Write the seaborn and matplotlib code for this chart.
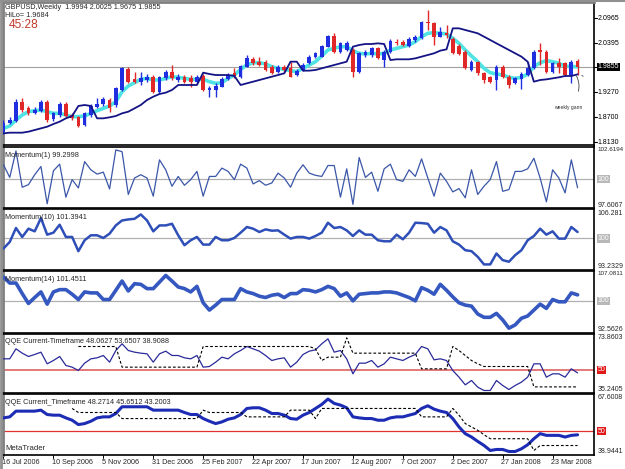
import numpy as np
import pandas as pd
import matplotlib
matplotlib.use("Agg")
import matplotlib.pyplot as plt
import matplotlib.transforms as mtrans
import seaborn as sns

# ---------------- data ----------------
open_ = [1.8373, 1.8579, 1.8625, 1.9059, 1.8906, 1.8807, 1.8853, 1.9059, 1.8655, 1.8754,
         1.9006, 1.8754, 1.8701, 1.8525, 1.8754, 1.8945, 1.9006, 1.9097, 1.8983, 1.9326,
         1.9806, 1.9569, 1.9516, 1.9554, 1.9630, 1.9287, 1.9592, 1.9745, 1.9554, 1.9630,
         1.9592, 1.9516, 1.9646, 1.9326, 1.9326, 1.9402, 1.9569, 1.9722, 1.9615, 1.9859,
         2.0027, 1.9973, 1.9973, 1.9859, 1.9745, 1.9859, 1.9821, 1.9668, 1.9783, 1.9950,
         2.0088, 2.0088, 2.0316, 2.0560, 2.0202, 2.0240, 2.0240, 1.9745, 2.0126, 2.0126,
         2.0278, 2.0011, 2.0202, 2.0430, 2.0430, 2.0331, 2.0469, 2.0507, 2.0888, 2.0865,
         2.0545, 2.0636, 2.0484, 2.0331, 2.0202, 1.9783, 1.9973, 1.9707, 1.9615, 1.9554,
         1.9859, 1.9630, 1.9478, 1.9577, 1.9668, 1.9821, 2.0240, 2.0202, 1.9745, 1.9935,
         1.9935, 1.9668, 1.9994]
high = [1.8640, 1.8701, 1.9120, 1.9135, 1.8960, 1.8929, 1.9097, 1.9097, 1.8830, 1.9059,
        1.9059, 1.8807, 1.8731, 1.8830, 1.9006, 1.9135, 1.9173, 1.9135, 1.9402, 1.9859,
        1.9859, 1.9745, 1.9745, 1.9691, 1.9668, 1.9646, 1.9783, 1.9897, 1.9691, 1.9668,
        1.9668, 1.9668, 1.9691, 1.9417, 1.9478, 1.9615, 1.9707, 1.9821, 1.9897, 2.0126,
        2.0072, 2.0088, 2.0011, 1.9897, 1.9897, 1.9897, 1.9973, 1.9798, 1.9935, 2.0126,
        2.0202, 2.0354, 2.0583, 2.0636, 2.0430, 2.0453, 2.0278, 2.0202, 2.0240, 2.0316,
        2.0316, 2.0240, 2.0484, 2.0484, 2.0469, 2.0530, 2.0583, 2.0911, 2.1154, 2.0888,
        2.0758, 2.0811, 2.0530, 2.0377, 2.0240, 2.0011, 1.9996, 1.9745, 1.9646, 1.9897,
        1.9897, 1.9668, 1.9630, 1.9745, 1.9973, 2.0240, 2.0392, 2.0240, 1.9973, 2.0049,
        1.9973, 2.0011, 2.0025]
low = [1.8320, 1.8548, 1.8602, 1.8830, 1.8754, 1.8777, 1.8823, 1.8602, 1.8625, 1.8716,
       1.8701, 1.8640, 1.8472, 1.8503, 1.8716, 1.8906, 1.8960, 1.8830, 1.8945, 1.9310,
       1.9478, 1.9478, 1.9440, 1.9516, 1.9265, 1.9265, 1.9554, 1.9554, 1.9516, 1.9478,
       1.9402, 1.9478, 1.9310, 1.9158, 1.9173, 1.9387, 1.9554, 1.9600, 1.9592, 1.9844,
       1.9897, 1.9874, 1.9768, 1.9691, 1.9722, 1.9745, 1.9615, 1.9646, 1.9752, 1.9920,
       2.0049, 2.0072, 2.0301, 2.0179, 2.0179, 2.0225, 1.9630, 1.9722, 2.0088, 2.0088,
       2.0027, 1.9859, 2.0179, 2.0354, 2.0331, 2.0316, 2.0430, 2.0484, 2.0697, 2.0354,
       2.0530, 2.0507, 2.0149, 2.0126, 1.9798, 1.9768, 1.9668, 1.9478, 1.9493, 1.9326,
       1.9592, 1.9364, 1.9463, 1.9341, 1.9646, 1.9798, 1.9897, 1.9722, 1.9722, 1.9707,
       1.9646, 1.9478, 1.9675]
close = [1.8579, 1.8640, 1.9059, 1.8868, 1.8792, 1.8868, 1.9059, 1.8640, 1.8792, 1.9006,
         1.8731, 1.8678, 1.8503, 1.8792, 1.8960, 1.9006, 1.9120, 1.8906, 1.9364, 1.9821,
         1.9516, 1.9516, 1.9592, 1.9630, 1.9287, 1.9615, 1.9745, 1.9592, 1.9630, 1.9516,
         1.9516, 1.9630, 1.9326, 1.9379, 1.9417, 1.9569, 1.9668, 1.9646, 1.9882, 2.0049,
         1.9935, 1.9897, 1.9783, 1.9707, 1.9859, 1.9783, 1.9630, 1.9768, 1.9897, 2.0088,
         2.0164, 2.0331, 2.0560, 2.0202, 2.0408, 2.0408, 1.9745, 2.0164, 2.0202, 2.0278,
         2.0049, 2.0202, 2.0453, 2.0392, 2.0354, 2.0484, 2.0545, 2.0888, 2.0850, 2.0545,
         2.0659, 2.0583, 2.0164, 2.0141, 1.9821, 1.9973, 1.9707, 1.9554, 1.9516, 1.9859,
         1.9630, 1.9440, 1.9592, 1.9691, 1.9821, 2.0202, 2.0202, 1.9745, 1.9935, 1.9859,
         1.9668, 1.9973, 1.9855]
ma_cyan = [1.8449, 1.8503, 1.8640, 1.8754, 1.8830, 1.8853, 1.8868, 1.8830, 1.8792, 1.8792,
           1.8754, 1.8716, 1.8716, 1.8731, 1.8792, 1.8853, 1.8906, 1.8960, 1.9059, 1.9287,
           1.9417, 1.9493, 1.9569, 1.9592, 1.9554, 1.9554, 1.9592, 1.9630, 1.9615, 1.9592,
           1.9569, 1.9569, 1.9569, 1.9516, 1.9478, 1.9493, 1.9592, 1.9668, 1.9798, 1.9897,
           1.9950, 1.9950, 1.9920, 1.9859, 1.9821, 1.9798, 1.9768, 1.9745, 1.9821, 1.9897,
           1.9973, 2.0103, 2.0240, 2.0278, 2.0316, 2.0316, 2.0225, 2.0164, 2.0149, 2.0164,
           2.0149, 2.0164, 2.0240, 2.0278, 2.0316, 2.0354, 2.0430, 2.0545, 2.0621, 2.0636,
           2.0621, 2.0606, 2.0507, 2.0392, 2.0240, 2.0103, 1.9973, 1.9821, 1.9722, 1.9691,
           1.9668, 1.9615, 1.9592, 1.9615, 1.9691, 1.9859, 1.9950, 1.9996, 1.9973, 1.9935,
           1.9874, 1.9859, 1.9859]
hilo = [1.8335, 1.8350, 1.8350, 1.8350, 1.8373, 1.8411, 1.8449, 1.8487, 1.8548, 1.8602,
        1.8678, 1.8731, 1.8960, 1.8983, 1.8960, 1.8678, 1.8678, 1.8701, 1.8731, 1.8792,
        1.8830, 1.8906, 1.8983, 1.9097, 1.9173, 1.9234, 1.9265, 1.9326, 1.9440, 1.9440,
        1.9440, 1.9440, 1.9722, 1.9691, 1.9668, 1.9668, 1.9668, 1.9646, 1.9440, 1.9478,
        1.9516, 1.9554, 1.9592, 1.9630, 1.9668, 1.9707, 1.9973, 1.9973, 1.9768, 1.9768,
        1.9783, 1.9821, 1.9859, 1.9897, 1.9935, 1.9973, 2.0316, 2.0354, 2.0377, 2.0377,
        2.0392, 2.0377, 2.0011, 2.0027, 2.0027, 2.0027, 2.0049, 2.0088, 2.0126, 2.0164,
        2.0225, 2.0255, 2.0735, 2.0735, 2.0697, 2.0659, 2.0621, 2.0545, 2.0469, 2.0392,
        2.0316, 2.0240, 2.0164, 2.0088, 1.9973, 1.9516, 1.9554, 1.9569, 1.9592, 1.9615,
        1.9646, 1.9646, 1.9684]
mom1 = [101.17, 100.14, 102.30, 99.34, 99.55, 100.36, 101.03, 97.99, 100.68, 101.22,
        98.53, 99.96, 99.28, 101.43, 100.76, 100.41, 100.57, 99.20, 102.38, 102.24,
        98.75, 100.09, 100.36, 100.09, 98.61, 101.57, 100.76, 99.42, 100.22, 99.50,
        99.96, 100.63, 98.61, 100.22, 100.22, 100.90, 100.63, 99.96, 101.22, 100.90,
        99.61, 99.88, 99.50, 99.69, 100.49, 100.09, 99.34, 100.49, 101.17, 100.49,
        100.31, 100.22, 101.11, 101.11, 98.53, 100.84, 97.94, 101.76, 100.14, 100.57,
        99.01, 100.84, 101.22, 99.96, 99.82, 100.76, 100.22, 101.65, 100.09, 98.61,
        100.49, 99.82, 98.96, 99.23, 98.48, 100.76, 98.75, 99.42, 99.96, 101.43,
        99.01, 99.15, 100.63, 100.63, 100.84, 101.70, 100.09, 98.15, 100.76, 100.09,
        98.88, 101.57, 99.30]
mom10 = [97.79, 99.23, 102.25, 100.31, 102.11, 101.53, 104.41, 100.81, 101.24, 102.97,
         100.31, 100.31, 97.22, 99.59, 100.67, 100.67, 100.09, 101.03, 102.82, 103.90,
         104.12, 104.26, 105.20, 103.90, 101.53, 102.82, 102.82, 103.18, 100.67, 98.51,
         99.59, 100.31, 98.65, 98.65, 100.31, 99.59, 99.59, 100.09, 101.24, 102.47,
         102.11, 101.39, 101.96, 101.67, 101.74, 100.81, 99.95, 100.31, 100.31, 99.95,
         100.52, 101.24, 103.40, 102.25, 102.47, 101.74, 100.52, 101.74, 100.81, 100.81,
         99.59, 99.37, 99.37, 100.81, 99.80, 101.24, 103.40, 103.33, 103.18, 101.24,
         102.47, 101.74, 99.37, 98.65, 97.43, 97.22, 95.99, 94.34, 94.34, 96.71,
         95.27, 94.92, 96.35, 97.43, 99.59, 100.52, 102.11, 100.81, 101.53, 99.95,
         99.95, 102.47, 101.39]
mom14 = [105.64, 104.24, 104.24, 101.75, 99.42, 100.82, 102.14, 99.26, 102.14, 102.68,
         102.68, 101.60, 100.35, 102.14, 101.91, 101.91, 100.35, 100.35, 102.53, 104.71,
         102.37, 104.08, 103.93, 102.92, 102.92, 104.47, 106.03, 104.71, 103.31, 102.92,
         102.14, 103.46, 99.57, 97.86, 99.03, 100.35, 100.35, 100.35, 102.92, 102.14,
         101.75, 101.13, 100.82, 101.36, 101.60, 100.82, 101.75, 101.75, 102.68, 102.53,
         102.14, 102.68, 103.46, 102.92, 101.13, 101.91, 100.04, 101.60, 101.75, 101.91,
         101.91, 102.14, 102.14, 101.91, 101.36, 100.82, 100.04, 103.15, 102.53, 101.60,
         103.93, 102.53, 100.97, 99.57, 99.03, 98.79, 96.93, 96.15, 96.15, 97.08,
         95.53, 93.58, 94.36, 95.92, 96.46, 97.86, 99.26, 98.25, 100.35, 99.81,
         99.81, 101.91, 101.45]
qqe1_rsi = [57.28, 57.28, 63.83, 60.99, 58.81, 60.12, 61.65, 54.01, 56.19, 58.81,
            52.92, 51.83, 49.65, 54.44, 57.28, 57.94, 59.46, 55.10, 62.74, 67.10,
            62.74, 61.65, 60.99, 60.56, 55.10, 60.56, 62.30, 59.46, 59.46, 57.94,
            57.28, 59.46, 51.83, 52.26, 55.10, 58.37, 57.28, 60.56, 62.74, 65.35,
            63.83, 62.30, 59.46, 56.19, 57.28, 57.94, 51.83, 55.10, 60.12, 62.30,
            63.17, 67.10, 70.37, 61.65, 62.74, 57.28, 47.46, 54.44, 54.44, 56.19,
            51.83, 54.01, 58.37, 57.28, 56.19, 58.37, 60.12, 65.35, 63.83, 56.63,
            57.28, 56.19, 49.65, 45.28, 40.26, 43.10, 38.74, 36.55, 36.55, 43.10,
            39.83, 37.21, 39.83, 42.01, 45.28, 54.01, 54.01, 45.28, 47.46, 47.46,
            45.28, 50.74, 48.06]
nan = float("nan")
qqe1_trail = [nan, nan, nan, nan, nan, nan, nan, nan, nan, nan,
              nan, nan, 65.35, 65.35, 65.35, 65.35, 65.35, 65.35, 65.35, 51.83,
              51.83, 51.83, 51.83, 51.83, 51.83, 51.83, 51.83, 51.83, 51.83, 51.83,
              51.83, 51.83, 65.35, 65.35, 65.35, 65.35, 65.35, 65.35, 65.35, 65.35,
              65.35, 65.35, 65.35, 65.35, 65.35, 65.35, 65.35, 65.35, 65.35, 65.35,
              63.83, 56.19, 58.37, 58.37, 58.37, 71.03, 60.99, 60.99, 60.99, 60.99,
              60.99, 60.99, 60.99, 60.99, 60.99, 60.99, 60.99, 50.74, 50.74, 50.74,
              50.74, 50.74, 65.35, 62.74, 59.46, 56.19, 54.01, 52.26, 52.26, 52.26,
              52.26, 52.26, 52.26, 52.26, 52.26, 38.91, 38.91, 38.91, 38.91, 38.91,
              38.91, 38.91, 38.91]
qqe2_rsi = [56.29, 56.77, 59.48, 59.48, 59.48, 59.48, 59.95, 57.88, 57.57, 57.57,
            56.29, 55.18, 53.11, 53.59, 54.70, 56.29, 56.77, 56.77, 58.36, 61.55,
            61.55, 61.55, 61.55, 61.55, 59.95, 59.95, 59.95, 59.95, 59.95, 58.84,
            57.88, 57.88, 55.97, 54.70, 53.59, 54.38, 55.66, 56.29, 57.88, 60.75,
            61.07, 61.07, 59.95, 58.36, 58.36, 57.57, 55.97, 55.66, 57.57, 58.84,
            60.75, 62.66, 65.21, 63.14, 62.34, 61.07, 56.77, 56.29, 55.97, 55.97,
            55.18, 55.18, 56.29, 56.77, 56.77, 57.57, 58.36, 60.75, 62.02, 60.43,
            59.48, 58.84, 55.97, 52.00, 48.81, 47.22, 45.15, 43.24, 40.85, 41.33,
            41.33, 40.37, 40.37, 41.65, 43.56, 46.42, 48.81, 48.01, 48.01, 48.01,
            47.22, 48.01, 48.27]
qqe2_trail = [nan, nan, nan, nan, nan, nan, nan, nan, nan, nan,
              nan, 60.75, 58.84, 58.84, 58.84, 58.84, 58.84, 58.84, 58.84, 55.97,
              55.97, 55.97, 55.97, 55.97, 55.97, 55.97, 55.97, 55.97, 55.97, 55.97,
              55.97, 55.97, 59.95, 58.84, 58.84, 58.84, 58.84, 58.84, 58.84, 56.77,
              56.77, 56.77, 56.77, 56.77, 56.77, 56.77, 59.95, 59.95, 59.95, 59.95,
              55.97, 60.75, 60.75, 60.75, 60.75, 60.75, 60.75, 60.75, 60.75, 60.75,
              60.75, 60.75, 60.75, 60.75, 60.75, 60.75, 60.75, 56.77, 56.77, 56.77,
              56.77, 56.77, 60.75, 57.57, 53.59, 52.00, 50.40, 48.33, 46.42, 46.42,
              46.42, 46.42, 46.42, 46.42, 46.42, 40.85, 43.20, 43.20, 43.20, 43.20,
              43.20, 43.20, 43.20]

date_labels = ["16 Jul 2006", "10 Sep 2006", "5 Nov 2006", "31 Dec 2006", "25 Feb 2007",
               "22 Apr 2007", "17 Jun 2007", "12 Aug 2007", "7 Oct 2007", "2 Dec 2007",
               "27 Jan 2008", "23 Mar 2008"]
date_label_bars = [0, 8, 16, 24, 32, 40, 48, 56, 64, 72, 80, 88]
price_ticks = [2.0965, 2.0395, 1.9270, 1.8700, 1.8130]
last_close = 1.9855
panel_ranges = {"mom1": (97.6067, 102.6194), "mom10": (93.2329, 106.281),
                "mom14": (92.5626, 107.0811), "qqe1": (35.2405, 73.8603),
                "qqe2": (38.9441, 67.6008)}
panel_range_text = {"mom1": ("102.6194", "97.6067"), "mom10": ("106.281", "93.2329"),
                    "mom14": ("107.0811", "92.5626"), "qqe1": ("73.8603", "35.2405"),
                    "qqe2": ("67.6008", "38.9441")}
price_range = (1.8057, 2.1337)

# ---------------- figure ----------------
sns.set_theme(style="white")
plt.rcParams["font.family"] = ["Liberation Sans", "DejaVu Sans"]
W, H = 625, 469
fig = plt.figure(figsize=(W / 100, H / 100), dpi=100, facecolor="white")

X0, X1 = 2.5, 594.3
def add_ax(ytop, ybot):
    ax = fig.add_axes([X0 / W, 1 - ybot / H, (X1 - X0) / W, (ybot - ytop) / H])
    ax.set_facecolor("white")
    ax.set_xlim(-0.16, 94.68)
    ax.set_xticks([]); ax.set_yticks([])
    ax.set_xlabel(""); ax.set_ylabel("")
    for s in ax.spines.values():
        s.set_color("black"); s.set_linewidth(1.2)
    ax.spines["left"].set_color("#808080"); ax.spines["left"].set_linewidth(2)
    return ax

idx = np.arange(len(close))
df = pd.DataFrame({"bar": idx, "open": open_, "high": high, "low": low, "close": close,
                   "ma": ma_cyan, "hilo": hilo, "mom1": mom1, "mom10": mom10, "mom14": mom14,
                   "q1": qqe1_rsi, "q1t": qqe1_trail, "q2": qqe2_rsi, "q2t": qqe2_trail})

FS = 5.2
RFS = 5.0
LX = 1.0055   # start of right-hand labels (axes fraction)
# --- price panel ---
axp = add_ax(2, 145.5)
axp.spines["top"].set_color("#808080"); axp.spines["top"].set_linewidth(2)
axp.set_ylim(*price_range)
axp.axhline(last_close, color="#a0a0a0", lw=0.8, zorder=1)
o = np.array(open_); c = np.array(close)
up = c >= o
cols = np.where(up, "#1f2fe0", "#e02828")
axp.vlines(idx, low, high, colors=cols, lw=1.0, zorder=3)
body = np.maximum(np.abs(c - o), 0.0012)
axp.bar(idx, body, bottom=np.minimum(o, c), width=0.6, color=cols, linewidth=0, zorder=4)
sns.lineplot(data=df, x="bar", y="ma", ax=axp, color="#4fe3e3", lw=2.6, estimator=None,
             sort=False, legend=False, zorder=2)
sns.lineplot(data=df, x="bar", y="hilo", ax=axp, color="#141486", lw=1.3, estimator=None,
             sort=False, legend=False, zorder=5)
axp.set_xticks([]); axp.set_yticks([]); axp.set_xlabel(""); axp.set_ylabel("")

def right_label(ax, val, txt, box=None, tcolor="black", tick=True, fs=RFS):
    tr = ax.get_yaxis_transform()
    if tick:
        ax.plot([1.0, 1.005], [val, val], transform=tr, color="black", lw=0.8, clip_on=False)
    kw = {}
    if box is not None:
        kw["bbox"] = dict(boxstyle="square,pad=0.12", fc=box, ec="none")
    ax.text(LX, val, txt, transform=tr, fontsize=fs, va="center", ha="left",
            color=tcolor, clip_on=False, **kw)

for t in price_ticks:
    right_label(axp, t, f"{t:.4f}")
right_label(axp, last_close, f"{last_close:.4f}", box="black", tcolor="white")

fig.text(5 / W, 1 - 7.5 / H, "GBPUSD,Weekly  1.9994 2.0025 1.9675 1.9855", fontsize=FS,
         va="center", ha="left")
fig.text(5 / W, 1 - 15.5 / H, "HiLo= 1.9684", fontsize=FS, va="center", ha="left")
fig.text(9 / W, 1 - 24.5 / H, "45:28", fontsize=8.6, va="center", ha="left", color="#c0392b")
# weekly gann note
fig.text(568 / W, 1 - 107.5 / H, "weekly gann", fontsize=3.6, va="center", ha="center",
         color="#303030")
axp.annotate("", xy=(91.6, 1.9700), xytext=(92.0, 1.9235),
             arrowprops=dict(arrowstyle="-", color="#404040", lw=0.6,
                             connectionstyle="arc3,rad=0.25"))
axp.annotate("", xy=(92.9, 1.9640), xytext=(92.3, 1.9690),
             arrowprops=dict(arrowstyle="-", color="#404040", lw=0.6))

# --- indicator panels ---
def ind_panel(ytop, ybot, key, cols_, title, center, center_txt, center_box, center_line):
    ax = add_ax(ytop, ybot)
    lo, hi = panel_ranges[key]
    ax.set_ylim(lo, hi)
    ax.axhline(center, color=center_line[0], lw=center_line[1], zorder=1)
    for col, color, lw, ls in cols_:
        sns.lineplot(data=df, x="bar", y=col, ax=ax, color=color, lw=lw, estimator=None,
                     sort=False, legend=False, zorder=3, linestyle=ls)
    ax.set_xticks([]); ax.set_yticks([]); ax.set_xlabel(""); ax.set_ylabel("")
    tr = ax.get_yaxis_transform()
    hi_txt, lo_txt = panel_range_text[key]
    fs_hi = 4.5 if len(hi_txt) > 7 else RFS
    fs_lo = 4.5 if len(lo_txt) > 7 else RFS
    ax.text(LX, hi, hi_txt, transform=tr, fontsize=fs_hi, va="top", ha="left", clip_on=False)
    ax.text(LX, lo, lo_txt, transform=tr, fontsize=fs_lo, va="bottom", ha="left",
            clip_on=False)
    right_label(ax, center, center_txt, box=center_box, tcolor="white", tick=False)
    ax.text(0.005, 0.86, title, transform=ax.transAxes, fontsize=FS, va="center", ha="left")
    return ax

ax1 = ind_panel(147, 208.5, "mom1", [("mom1", "#3a56a8", 0.9, "-")],
                "Momentum(1) 99.2998", 100, "100", "#b8b8b8", ("#b0b0b0", 0.9))
ax2 = ind_panel(209.5, 269.5, "mom10", [("mom10", "#2f4fb8", 1.8, "-")],
                "Momentum(10) 101.3941", 100, "100", "#b8b8b8", ("#b0b0b0", 0.9))
ax3 = ind_panel(271, 332.5, "mom14", [("mom14", "#3558c0", 2.6, "-")],
                "Momentum(14) 101.4511", 100, "100", "#b8b8b8", ("#b0b0b0", 0.9))
ax4 = ind_panel(333.5, 392.5, "qqe1", [("q1", "#2a2a9a", 0.9, "-"), ("q1t", "black", 0.8, (0, (2.5, 1.8)))],
                "QQE Current-Timeframe 48.0627 53.6507 38.9088", 50, "50", "#e01818", ("#e07070", 1.3))
ax5 = ind_panel(394, 454.5, "qqe2", [("q2", "#1c2cb4", 2.2, "-"), ("q2t", "black", 0.8, (0, (2.5, 1.8)))],
                "QQE Current_Timeframe 48.2714 45.6512 43.2003", 50, "50", "#e01818", ("#e03030", 0.9))
ax5.text(0.005, 0.10, "MetaTrader", transform=ax5.transAxes, fontsize=FS + 0.4, va="center",
         ha="left")

# date labels
trd = mtrans.blended_transform_factory(ax5.transData, fig.transFigure)
for b, lab in zip(date_label_bars, date_labels):
    ax5.text(b - 0.25, 1 - 462.5 / H, lab, transform=trd, fontsize=FS, va="center", ha="left",
             clip_on=False)
    ax5.plot([b, b], [1 - 455 / H, 1 - 457.5 / H], transform=trd, color="black", lw=0.7,
             clip_on=False)

# outer gray frame (left & top)
fig.add_artist(plt.Line2D([1 / W, 1 / W], [0, 1], color="#909090", lw=2))
fig.add_artist(plt.Line2D([0, 1], [1 - 0.8 / H, 1 - 0.8 / H], color="#909090", lw=1.5))

fig.savefig("out.png", dpi=100, facecolor="white")
